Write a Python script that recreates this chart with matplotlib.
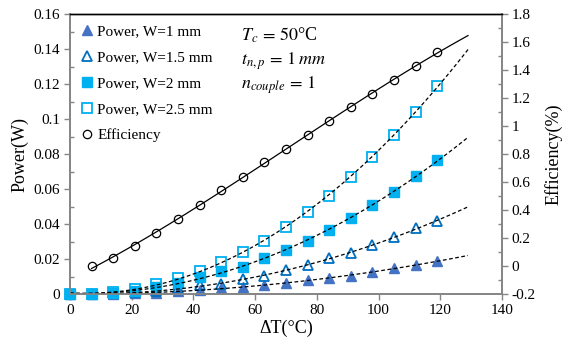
import matplotlib
matplotlib.use("Agg")
import matplotlib.pyplot as plt
from matplotlib.lines import Line2D
from matplotlib.ticker import MultipleLocator, FormatStrFormatter
import numpy as np

plt.rcParams["font.family"] = ["Liberation Serif", "DejaVu Serif"]
plt.rcParams["mathtext.fontset"] = "stix"

# ── data ─────────────────────────────────────────────────────────────────────
dT = [0, 7, 14, 21, 28, 35, 42, 49, 56, 63, 70, 77, 84, 91, 98, 105, 112, 119]

p_w1 = [0, 0, 0.0002, 0.0005, 0.0009, 0.0016, 0.0025, 0.0035, 0.0040, 0.0051,
        0.0065, 0.0080, 0.0090, 0.0103, 0.0127, 0.0147, 0.0166, 0.0190]
p_w15 = [0, 0.0001, 0.0004, 0.0010, 0.0018, 0.0034, 0.0050, 0.0060, 0.0084, 0.0103,
         0.0137, 0.0166, 0.0204, 0.0233, 0.0280, 0.0327, 0.0375, 0.0419]
p_w2 = [0, 0.0002, 0.0008, 0.0020, 0.0038, 0.0065, 0.0100, 0.0130, 0.0156, 0.0204,
        0.0251, 0.0305, 0.0366, 0.0433, 0.0509, 0.0585, 0.0674, 0.0766]
p_w25 = [0, 0.0003, 0.0012, 0.0030, 0.0058, 0.0092, 0.0133, 0.0183, 0.0242, 0.0303,
         0.0385, 0.0467, 0.0562, 0.0670, 0.0785, 0.0910, 0.1042, 0.1189]

dT_eff = dT[1:]
eff = [0.0, 0.055, 0.141, 0.238, 0.338, 0.438, 0.541, 0.636, 0.741, 0.836,
       0.938, 1.033, 1.138, 1.231, 1.327, 1.431, 1.527]

TREND_END = 129

# ── styles ───────────────────────────────────────────────────────────────────
series = [
    (p_w1,  "Power, W=1 mm",   dict(marker="^", mfc="#4472C4", mec="#4472C4")),
    (p_w15, "Power, W=1.5 mm", dict(marker="^", mfc="none",    mec="#0070C0", mew=1.3)),
    (p_w2,  "Power, W=2 mm",   dict(marker="s", mfc="#00B0F0", mec="#00B0F0")),
    (p_w25, "Power, W=2.5 mm", dict(marker="s", mfc="none",    mec="#00B0F0", mew=1.3)),
]
GREY = "#868686"

fig = plt.figure(figsize=(5.64, 3.51), dpi=100)
ax = fig.add_axes([0.124, 0.162, 0.766, 0.798])
ax2 = ax.twinx()

handles = []
for vals, label, st in series:
    ax.plot(dT, vals, ls="none", ms=7, clip_on=False, zorder=3, **st)
    coef = np.polyfit(dT, vals, 2)
    xx = np.linspace(0, TREND_END, 100)
    ax.plot(xx, np.polyval(coef, xx), color="black", lw=0.9,
            dashes=(3, 2), zorder=4)
    handles.append(Line2D([], [], ls="none", ms=7, label=label, **st))

# efficiency on the secondary axis
coef = np.polyfit(dT_eff, eff, 3)
xx = np.linspace(dT_eff[0], TREND_END, 100)
ax2.plot(xx, np.polyval(coef, xx), color="black", lw=0.9, zorder=2)
ax2.plot(dT_eff, eff, ls="none", marker="o", ms=6, mfc="none", mec="black",
         mew=0.9, zorder=3)
handles.append(Line2D([], [], ls="none", marker="o", ms=6, mfc="none",
                      mec="black", mew=0.9, label="Efficiency"))

# ── axes ─────────────────────────────────────────────────────────────────────
ax.set_xlim(0, 140)
ax.set_ylim(0, 0.16)
ax2.set_ylim(-0.2, 1.8)
ax.xaxis.set_major_locator(MultipleLocator(20))
ax.yaxis.set_major_locator(MultipleLocator(0.02))
ax.yaxis.set_minor_locator(MultipleLocator(0.01))
ax2.yaxis.set_major_locator(MultipleLocator(0.2))
ax2.yaxis.set_minor_locator(MultipleLocator(0.1))
ax.yaxis.set_major_formatter(FormatStrFormatter("%g"))
ax2.yaxis.set_major_formatter(plt.FuncFormatter(lambda v, p: f"{round(v, 2):g}"))

for a in (ax, ax2):
    for side in ("left", "right", "bottom"):
        a.spines[side].set_color(GREY)
        a.spines[side].set_linewidth(1.3)
    a.spines["top"].set_color("black")
    a.spines["top"].set_linewidth(1.0)
    a.tick_params(which="major", direction="out", length=4, width=1,
                  color=GREY, labelsize=11, pad=3)
    a.tick_params(which="minor", direction="in", length=3, width=1, color=GREY)
ax.tick_params(axis="x", which="minor", length=0)

ax.set_xlabel("ΔT(°C)", fontsize=13, labelpad=2)
ax.set_ylabel("Power(W)", fontsize=13, labelpad=4)
ax2.set_ylabel("Efficiency(%)", fontsize=13, labelpad=6)

ax.legend(handles=handles, loc="upper left", frameon=False, fontsize=11,
          handlelength=0.8, handletextpad=0.3, labelspacing=0.8,
          borderaxespad=0.3, bbox_to_anchor=(0.0, 1.0))

# operating conditions
ax.text(0.395, 0.905, r"$T_c\,=\,50$°C", transform=ax.transAxes, fontsize=13)
ax.text(0.395, 0.82, r"$t_{n,p}\,=\,1\;mm$", transform=ax.transAxes, fontsize=13)
ax.text(0.395, 0.735, r"$n_{couple}\,=\,1$", transform=ax.transAxes, fontsize=13)

fig.savefig("out.png", dpi=100)
